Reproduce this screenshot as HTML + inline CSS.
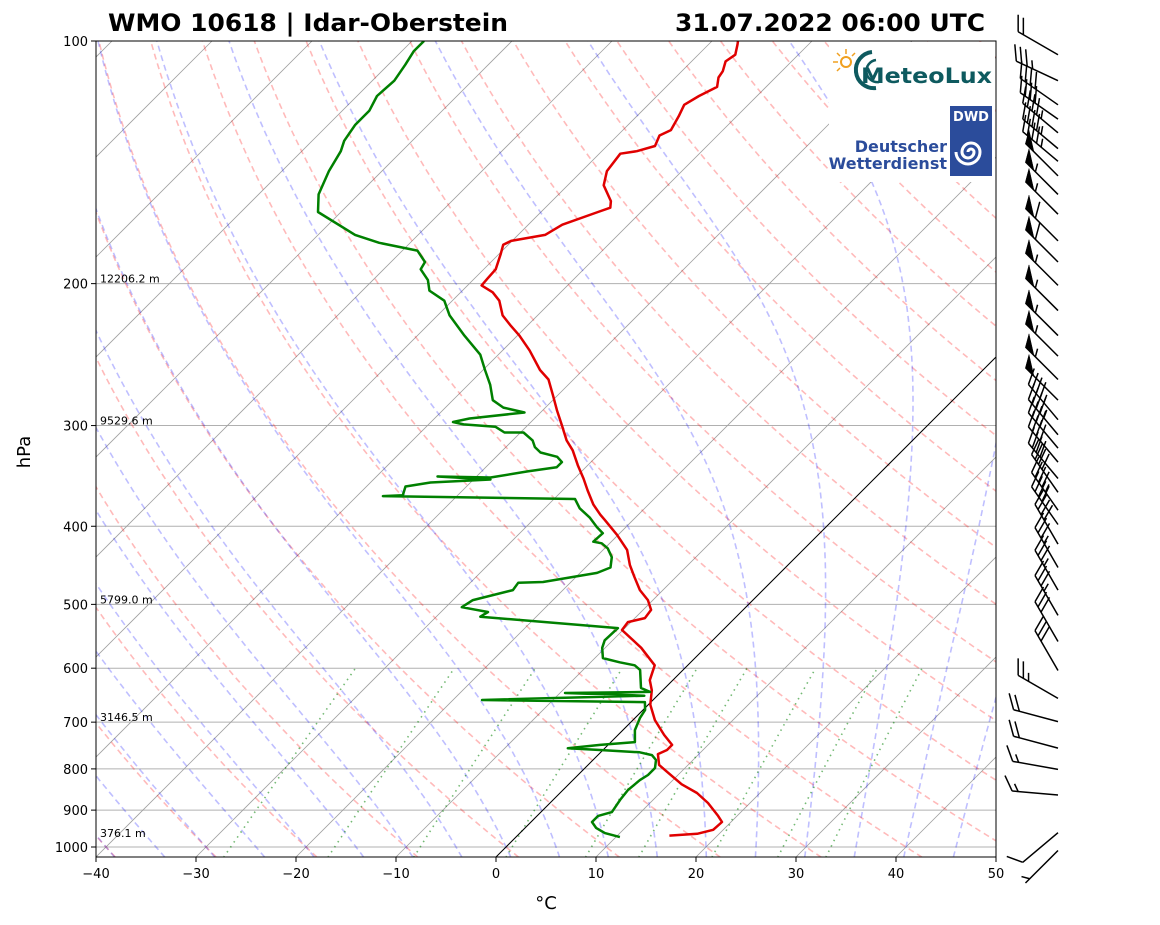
<!DOCTYPE html>
<html><head><meta charset="utf-8"><style>
html,body{margin:0;padding:0;background:#fff;}
svg{display:block;font-family:"DejaVu Sans","Liberation Sans",sans-serif;}
</style></head><body>
<svg id="chart" width="1160" height="925" viewBox="0 0 1160 925" xmlns="http://www.w3.org/2000/svg">
<defs><clipPath id="plotclip"><rect x="96" y="41" width="900" height="816"/></clipPath></defs>
<rect width="1160" height="925" fill="#fff"/>
<text x="108" y="31" font-size="24" font-weight="bold" textLength="400" lengthAdjust="spacingAndGlyphs">WMO 10618 | Idar-Oberstein</text>
<text x="675" y="31" font-size="24" font-weight="bold" textLength="310" lengthAdjust="spacingAndGlyphs">31.07.2022 06:00 UTC</text>
<g id="bg" clip-path="url(#plotclip)"></g>
<g id="logos">
  <rect x="829" y="42" width="166" height="140" fill="#fff"/>
  <g>
    <circle cx="846" cy="62" r="5" fill="none" stroke="#f0a020" stroke-width="2"/>
    <g stroke="#f0a020" stroke-width="1.5">
      <line x1="846" y1="49" x2="846" y2="54"/><line x1="833" y1="62" x2="838" y2="62"/>
      <line x1="837" y1="53" x2="840" y2="56"/><line x1="855" y1="53" x2="852" y2="56"/>
      <line x1="837" y1="71" x2="840" y2="68"/>
    </g>
    <path d="M872 52 A18 18 0 1 0 876 88" fill="none" stroke="#0e5a5f" stroke-width="4"/>
    <path d="M876 60 A11 11 0 1 0 879 82" fill="none" stroke="#0e5a5f" stroke-width="2.5"/>
    <text x="861" y="83" font-size="21" font-weight="bold" fill="#0e5a5f" textLength="131" lengthAdjust="spacingAndGlyphs">MeteoLux</text>
  </g>
  <g>
    <rect x="950" y="106" width="42" height="70" fill="#2b4c9b"/>
    <text x="971" y="121" font-size="13" font-weight="bold" fill="#fff" text-anchor="middle">DWD</text>
    <path d="M971 152 m-3 0 a3 3 0 1 1 6 0 a6 6 0 1 1 -12 0 a9 9 0 1 1 18 0 a12 12 0 1 1 -24 0" fill="none" stroke="#fff" stroke-width="3"/>
    <text x="947" y="152" font-size="16" font-weight="bold" fill="#2b4c9b" text-anchor="end">Deutscher</text>
    <text x="947" y="169" font-size="16" font-weight="bold" fill="#2b4c9b" text-anchor="end">Wetterdienst</text>
  </g>
</g>
<g id="data" clip-path="url(#plotclip)"></g>
<g id="axes"></g>
<g id="barbs"></g>
</svg>
<script>
const tempP = [968,963,952,931,915,882,857,836,809,791,767,758,747,726,696,666,639,621,595,566,538,526,520,508,494,480,462,447,428,410,393,387,376,361,349,336,322,313,299,287,275,263,256,242,232,225,219,210,205,201,197,192,184,179,177,174,169,163,161,158,151,145,138,137,135,131,129,124,120,117,114,111,109,106,104,101,100];
const tempT = [15.2,17.8,19.0,19.1,18.1,15.8,13.7,11.3,8.8,7.1,5.9,6.4,6.4,4.6,2.2,0.2,-1.1,-2.3,-3.3,-6.4,-10.1,-10.3,-9.0,-9.2,-10.5,-12.3,-14.2,-15.8,-17.6,-20.1,-22.8,-23.8,-25.5,-27.5,-29.1,-31.0,-33.0,-34.6,-36.7,-38.6,-40.5,-42.5,-44.3,-47.3,-49.8,-51.8,-53.5,-55.3,-56.8,-58.6,-58.7,-58.8,-59.8,-60.5,-60.1,-57.3,-56.6,-54.3,-53.5,-54.1,-56.4,-57.5,-57.9,-56.5,-55.2,-55.8,-55.2,-55.8,-56.4,-55.8,-54.9,-55.7,-55.9,-56.6,-56.3,-57.1,-57.4];
const dewP = [972,961,947,931,915,905,874,850,826,814,798,780,769,763,758,754,747,741,716,692,676,661,657,649,644,642,635,603,595,590,583,566,554,535,518,511,504,494,480,470,469,457,450,437,426,420,418,408,401,390,380,370,367,366,357,353,350,347,348,342,338,333,328,324,319,313,306,306,301,299,297,294,289,285,279,267,256,245,232,219,210,204,198,192,188,182,178,174,163,155,145,137,133,127,122,117,112,107,103,100];
const dewT = [10.4,8.5,7.1,6.1,6.1,7.1,6.7,6.5,6.7,7.0,7.0,6.3,5.4,3.9,-0.3,-3.7,-0.8,2.4,1.2,0.5,0.2,-0.6,-17.1,-1.3,-9.5,-1.1,-2.4,-4.3,-5.3,-7.1,-9.2,-10.3,-10.8,-10.7,-25.6,-25.3,-28.4,-28.0,-25.0,-25.2,-22.8,-18.3,-17.5,-18.4,-19.7,-20.8,-21.8,-21.7,-22.9,-24.6,-26.5,-27.9,-47.4,-45.5,-46.1,-44.0,-38.3,-43.9,-38.5,-35.4,-32.9,-32.9,-33.9,-36.0,-37.1,-38.0,-39.7,-41.6,-43.1,-46.5,-47.8,-46.5,-41.6,-44.2,-46.0,-47.8,-49.8,-51.8,-55.3,-58.8,-60.8,-63.3,-64.5,-66.3,-66.6,-68.5,-73.1,-76.3,-82.3,-84.0,-85.3,-86.1,-86.8,-87.3,-87.3,-88.0,-87.8,-88.3,-88.8,-88.8];
const pTicks = [100,200,300,400,500,600,700,800,900,1000];
const tTicks = [-40,-30,-20,-10,0,10,20,30,40,50];
const heightP = [200,300,500,700,975];
const heightLabels = ["12206.2 m","9529.6 m","5799.0 m","3146.5 m","376.1 m"];
const barbP = [104,112,120,125,130,136,141,147,155,164,177,188,201,216,232,246,263,279,295,308,320,333,349,363,382,398,421,450,480,516,556,604,654,699,754,801,862,960,1010];
const barbSpd = [20,35,40,40,45,45,45,50,55,55,60,60,55,55,55,55,55,50,45,45,40,40,40,40,45,40,40,35,35,35,30,30,25,20,20,15,15,10,5];
const barbDir = [300,295,305,305,310,310,310,315,315,315,315,315,315,315,315,315,315,315,320,320,320,320,320,325,325,325,330,330,330,330,330,330,300,285,285,280,275,230,225];
const dryT0 = [-40,-30,-20,-10,0,10,20,30,40,50,60,70,80,90,100,110,120,130,140,150,160,170,180,190,200];
const moistT0 = [-50,-45,-40,-35,-30,-25,-20,-15,-10,-5,0,5,10,15,20,25,30,35,40,45];
const mixW = [0.0004,0.001,0.002,0.004,0.007,0.01,0.016,0.024,0.032];

const NS='http://www.w3.org/2000/svg';
const PB=1030, PT=100;
function yOf(p){return 41+806*Math.log10(p/100);}
function xOf(T,p){return 96+(T+40)*10+(857-yOf(p));}
function mk(parent,tag,attrs){const e=document.createElementNS(NS,tag);for(const k in attrs)e.setAttribute(k,attrs[k]);parent.appendChild(e);return e;}
function pathFrom(ps,ts){let d='';for(let i=0;i<ps.length;i++){d+=(i?'L':'M')+xOf(ts[i],ps[i]).toFixed(1)+' '+yOf(ps[i]).toFixed(1);}return d;}
const bg=document.getElementById('bg');
const presArr=[];for(let p=PB;p>=PT-0.1;p-=5)presArr.push(p);

pTicks.forEach(p=>{const l=mk(bg,'line',{x1:96,x2:996,y1:yOf(p),y2:yOf(p),stroke:'#b0b0b0','stroke-width':1});

});
for(let T=-160;T<=50;T+=10){const l=mk(bg,'line',{x1:xOf(T,PB),y1:yOf(PB),x2:xOf(T,PT),y2:yOf(PT),stroke:'#a0a0a0','stroke-width':0.8});

}
dryT0.forEach(t0=>{const th=t0+273.15;const ts=presArr.map(p=>th*Math.pow(p/1000,0.2857)-273.15);
const e=mk(bg,'path',{d:pathFrom(presArr,ts),fill:'none',stroke:'rgba(255,0,0,0.27)','stroke-width':1.6,'stroke-dasharray':'6,4'});

});
function dTdp(p,T){const Rd=287.04,Cp=1005.7,Lv=2.501e6,eps=0.622;const es=6.112*Math.exp(17.67*(T-273.15)/(T-29.65));const rs=eps*es/(p-es);return ((Rd*T+Lv*rs)/p)/(Cp+(Lv*Lv*rs*eps)/(Rd*T*T));}
function integ(T,p0,p1,n){const h=(p1-p0)/n;let p=p0;for(let i=0;i<n;i++){const k1=dTdp(p,T),k2=dTdp(p+h/2,T+h/2*k1),k3=dTdp(p+h/2,T+h/2*k2),k4=dTdp(p+h,T+h*k3);T+=h/6*(k1+2*k2+2*k3+k4);p+=h;}return T;}
moistT0.forEach(t0=>{let T=integ(t0+273.15,1000,PB,6);const ts=[];let pp=PB;presArr.forEach(p=>{T=integ(T,pp,p,2);pp=p;ts.push(T-273.15);});
const e=mk(bg,'path',{d:pathFrom(presArr,ts),fill:'none',stroke:'rgba(0,0,255,0.25)','stroke-width':1.6,'stroke-dasharray':'6,4'});

});
const mixP=[];for(let p=PB;p>=600;p-=10)mixP.push(p);
mixW.forEach(w=>{const ts=mixP.map(p=>{const e=p*w/(0.622+w);const l=Math.log(e/6.112);return 243.5*l/(17.67-l);});
const e=mk(bg,'path',{d:pathFrom(mixP,ts),fill:'none',stroke:'rgba(0,128,0,0.55)','stroke-width':1.6,'stroke-dasharray':'1.5,4.5'});

});
const z=mk(bg,'line',{x1:xOf(0,PB),y1:yOf(PB),x2:xOf(0,PT),y2:yOf(PT),stroke:'#000','stroke-width':1});



const dg=document.getElementById('data');
const tp=mk(dg,'path',{d:pathFrom(tempP,tempT),fill:'none',stroke:'#e00000','stroke-width':2.5,'stroke-linejoin':'round'});


const dp=mk(dg,'path',{d:pathFrom(dewP,dewT),fill:'none',stroke:'#008000','stroke-width':2.5,'stroke-linejoin':'round'});


heightP.forEach((p,i)=>{const t=mk(dg,'text',{x:100,y:yOf(p)-1,'font-size':11,fill:'#000'});t.textContent=heightLabels[i];

});

const ax=document.getElementById('axes');
const fr=mk(ax,'rect',{x:96,y:41,width:900,height:816,fill:'none',stroke:'#000','stroke-width':1});


pTicks.forEach(p=>{const y=yOf(p);mk(ax,'line',{x1:91,x2:96,y1:y,y2:y,stroke:'#000'});
const t=mk(ax,'text',{x:88,y:y+5,'font-size':13,'text-anchor':'end'});t.textContent=p;

});
tTicks.forEach(T=>{const x=96+(T+40)*10;mk(ax,'line',{x1:x,x2:x,y1:857,y2:862,stroke:'#000'});
const t=mk(ax,'text',{x:x,y:878,'font-size':13,'text-anchor':'middle'});t.textContent=T<0?'\u2212'+(-T):T;

});
const yl=mk(ax,'text',{x:0,y:0,'font-size':18,'text-anchor':'middle',transform:'translate(30,452) rotate(-90)'});yl.textContent='hPa';


const xl=mk(ax,'text',{x:546,y:909,'font-size':18,'text-anchor':'middle'});xl.textContent='\u00B0C';



const bgp=document.getElementById('barbs');
barbP.forEach((p,i)=>{
  const bx=1058,by=yOf(p),L=46,r=barbDir[i]*Math.PI/180;
  const ux=Math.sin(r),uy=-Math.cos(r);
  const th=60*Math.PI/180;const fx=ux*Math.cos(th)-uy*Math.sin(th),fy=ux*Math.sin(th)+uy*Math.cos(th);
  const g=mk(bgp,'g',{stroke:'#000','stroke-width':1.5,fill:'#000'});
  
  
  const tx=bx+ux*L,ty=by+uy*L;
  mk(g,'line',{x1:bx,y1:by,x2:tx,y2:ty});
  let s=barbSpd[i];let pos=0;const fl=17,sp=6;
  while(s>=50){const ax1=tx-ux*pos,ay1=ty-uy*pos,ax2=tx-ux*(pos+12),ay2=ty-uy*(pos+12);
    mk(g,'polygon',{points:`${ax1},${ay1} ${ax2},${ay2} ${ax1+fx*fl*0.8},${ay1+fy*fl*0.8}`,'stroke-width':0.5});pos+=14;s-=50;}
  while(s>=10){const x1=tx-ux*pos,y1=ty-uy*pos;mk(g,'line',{x1:x1,y1:y1,x2:x1+fx*fl,y2:y1+fy*fl});pos+=sp;s-=10;}
  if(s>=5){if(pos===0)pos=sp;const x1=tx-ux*pos,y1=ty-uy*pos;mk(g,'line',{x1:x1,y1:y1,x2:x1+fx*fl/2,y2:y1+fy*fl/2});}
});
</script>
</body></html>
